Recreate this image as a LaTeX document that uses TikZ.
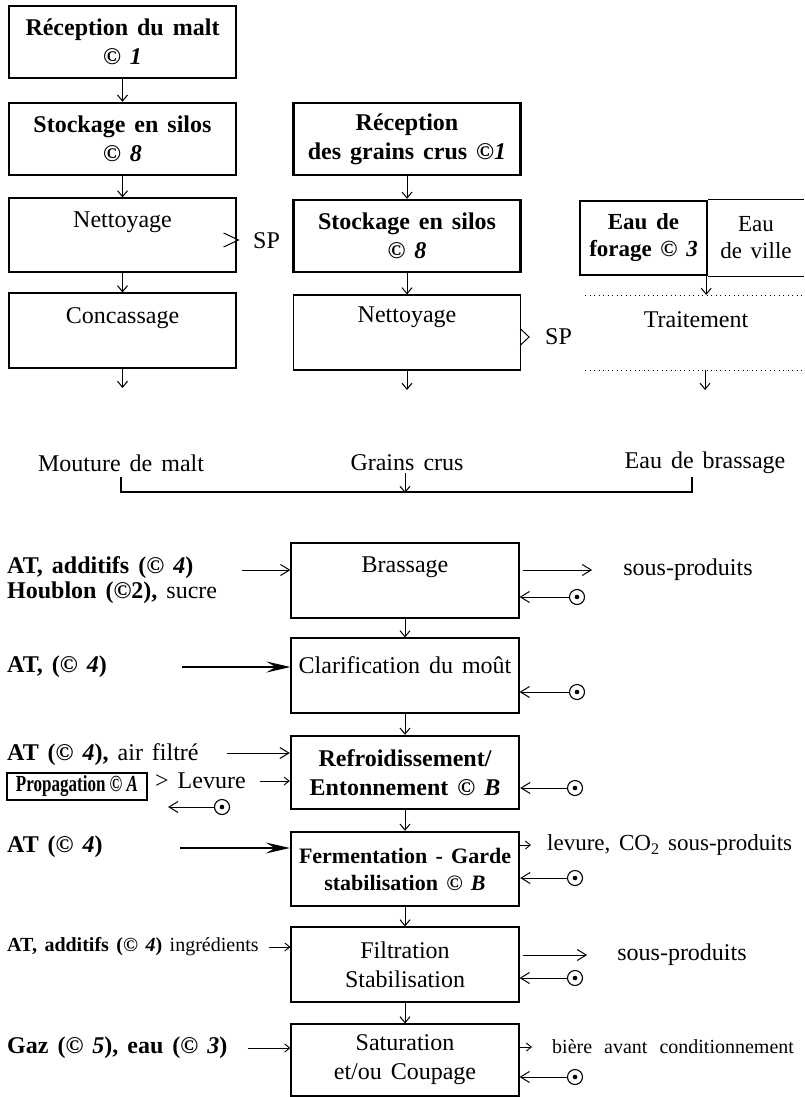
\documentclass[tikz,border=0pt]{standalone}
\usepackage{fontspec}
\setmainfont{Liberation Serif}[WordSpace=1.5]
\newfontfamily\propfont{Liberation Serif}[FakeStretch=0.74]
\usetikzlibrary{arrows.meta,calc}

\newcommand\ftA{\fontsize{24}{29}\selectfont}
\newcommand\ftB{\fontsize{23}{26}\selectfont}
\newcommand\ftC{\fontsize{20}{24}\selectfont}
\newcommand\cop{\textcopyright}

\begin{document}
\begin{tikzpicture}[x=1pt,y=-1pt,
  pbox/.style={draw, line width=1.1pt, minimum width=227pt, inner sep=0pt, align=center, font=\ftA},
  pboxb/.style={pbox, line width=2.4pt, font=\ftA\bfseries},
  lbl/.style={inner sep=0pt, align=center, font=\ftA},
  lblw/.style={lbl, anchor=west, align=left},
  vtip/.style={-{Straight Barb[length=6pt,width=10pt]}, line width=1pt},
  htip/.style={-{Straight Barb[length=9pt,width=11pt]}, line width=1pt},
  wtip/.style={-{Stealth[length=24pt,width=11pt,inset=9pt]}, line width=1.1pt},
  stip/.style={-{Straight Barb[length=5pt,width=8pt]}, line width=0.9pt},
  dotrule/.style={line width=0.9pt, dash pattern=on 0.9pt off 3.6pt},
  odot/.style={circle, draw, line width=1.1pt, minimum size=15pt, inner sep=0pt,
    path picture={\fill (path picture bounding box.center) circle (2.3pt);}},
]
\useasboundingbox (0,0) rectangle (804,1097);

% ---- malt line
\node[pboxb, minimum height=72pt] (recMalt) at (122.5,42) {Réception du malt\\\cop\ \textit{1}};
\node[pboxb, minimum height=72pt] (stockL) at (122.5,139) {Stockage en silos\\\cop\ \textit{8}};
\node[pbox, minimum height=74pt] (nettL) at (122.5,235) {};
\node[lbl] (nettLt) at (122.5,222) {Nettoyage};
\node[pbox, minimum height=75pt] (concL) at (122.5,330.5) {};
\node[lbl] (concLt) at (122.5,318) {Concassage};
\coordinate (maltEnd) at (122.5,388);
\node[lbl] (mouture) at (121,463) {Mouture de malt};
\draw[vtip] (recMalt) -- (stockL);
\draw[vtip] (stockL) -- (nettL);
\draw[vtip] (nettL) -- (concL);
\draw[vtip] (concL) -- (maltEnd);
\node[lblw] (spL) at (253,241) {SP};
\draw[line width=1pt] ($(nettL.east)+(-13,-2)$) -- ($(nettL.east)+(2,5)$) -- ($(nettL.east)+(-13,12)$);

% ---- raw grain line
\node[pboxb, minimum height=72pt] (recGr) at (407,139) {Réception\\des grains crus \cop\textit{1}};
\node[pboxb, minimum height=72pt] (stockM) at (407,236) {Stockage en silos\\\cop\ \textit{8}};
\node[pbox, minimum height=75pt] (nettM) at (407,332.5) {};
\node[lbl] (nettMt) at (407,317) {Nettoyage};
\coordinate (grEnd) at (407,390);
\node[lbl] (grains) at (407,463) {Grains crus};
\draw[vtip] (recGr) -- (stockM);
\draw[vtip] (stockM) -- (nettM);
\draw[vtip] (nettM) -- (grEnd);
\node[lblw] (spM) at (545,337) {SP};
\draw[line width=1pt] ($(nettM.east)+(-1,-4)$) -- ($(nettM.east)+(8,4.5)$) -- ($(nettM.east)+(-1,13)$);

% ---- water line
\coordinate (rightEdge) at (804,0);
\node[pboxb, minimum width=127pt, minimum height=74pt, font=\fontsize{23}{27}\selectfont\bfseries] (forage) at (643.5,238) {Eau de\\forage \cop\ \textit{3}};
\draw[line width=1.1pt] (forage.north east) -- (forage.north east -| rightEdge);
\draw[line width=1.1pt] (forage.south east) -- (forage.south east -| rightEdge);
\node[lbl, font=\fontsize{23}{27}\selectfont] (ville) at (756,238) {Eau\\de ville};
\coordinate (d1a) at (585,295);
\coordinate (d1b) at (804,295);
\coordinate (d2a) at (585,370);
\coordinate (d2b) at (804,370);
\draw[dotrule] (d1a) -- (d1b);
\draw[dotrule] (d2a) -- (d2b);
\node[lbl] (trait) at (696,320) {Traitement};
\draw[vtip] ([xshift=-2pt]forage.south east) -- ([xshift=-2pt]forage.south east |- d1a);
\coordinate (eauTop) at (705,370);
\coordinate (eauEnd) at (705,390);
\draw[vtip] (eauTop) -- (eauEnd);
\node[lbl] (eauBr) at (705,463) {Eau de brassage};

% ---- gathering bracket
\coordinate (brL) at (121,477);
\coordinate (brLb) at (121,492);
\coordinate (brRb) at (692,492);
\coordinate (brR) at (692,477);
\draw[line width=1.1pt] (brL) -- (brLb) -- (brRb) -- (brR);
\coordinate (mixTop) at (405,473);
\coordinate (mixEnd) at (405,493);
\draw[vtip] (mixTop) -- (mixEnd);

% ---- brewing steps
\node[pbox, minimum width=228pt, minimum height=75pt] (brass) at (405,580.5) {};
\node[lbl] (brasst) at (405,567) {Brassage};
\node[pbox, minimum width=228pt, minimum height=75pt] (clar) at (405,675.5) {};
\node[lbl] (clart) at (405,665) {Clarification du moût};
\node[pboxb, minimum width=228pt, minimum height=73pt] (refr) at (405,772.5) {Refroidissement/\\Entonnement \cop\ \textit{B}};
\node[pboxb, minimum width=228pt, minimum height=74pt, font=\fontsize{22}{27}\selectfont\bfseries] (ferm) at (405,869) {Fermentation - Garde\\stabilisation \cop\ \textit{B}};
\node[pbox, minimum width=228pt, minimum height=75pt] (filt) at (405,964.5) {Filtration\\Stabilisation};
\node[pbox, minimum width=228pt, minimum height=72pt] (sat) at (405,1060) {Saturation\\et/ou Coupage};
\draw[vtip] (brass) -- (clar);
\draw[vtip] (clar) -- (refr);
\draw[vtip] (refr) -- (ferm);
\draw[vtip] (ferm) -- (filt);
\draw[vtip] (filt) -- (sat);

% ---- outputs and controls on the right
\node[lbl] (sp1) at (688,570) {sous-produits};
\draw[htip, shorten <=3pt, shorten >=31pt] (brass.east |- sp1.west) -- (sp1.west);
\node[lbl] (sp2) at (682,955) {sous-produits};
\draw[htip, shorten <=3pt, shorten >=30pt] (filt.east |- sp2.west) -- (sp2.west);
\node[lblw, font=\ftB] (levOut) at (547,845) {levure, CO\textsubscript{2} sous-produits};
\draw[stip, shorten >=16pt] (ferm.east |- levOut.west) -- (levOut.west);
\node[lblw, font=\ftC] (biere) at (552,1047) {bière\hspace{12pt}avant\hspace{12pt}conditionnement};
\draw[stip, shorten >=20pt] (sat.east |- biere.west) -- (biere.west);

\node[odot] (o1) at (577,597) {};
\node[odot] (o2) at (577,692) {};
\node[odot] (o3) at (575,788) {};
\node[odot] (o4) at (575,878) {};
\node[odot] (o5) at (575,978) {};
\node[odot] (o6) at (575,1077) {};
\draw[htip] (o1) -- (o1 -| brass.east);
\draw[htip] (o2) -- (o2 -| clar.east);
\draw[htip] (o3) -- (o3 -| refr.east);
\draw[htip] (o4) -- (o4 -| ferm.east);
\draw[htip] (o5) -- (o5 -| filt.east);
\draw[htip] (o6) -- (o6 -| sat.east);

% ---- inputs on the left
\node[lblw, font=\ftA\bfseries] (in1) at (7,568) {AT, additifs (\cop\ \textit{4})};
\node[lblw] (in1b) at (7,593) {\textbf{Houblon (\cop2),} sucre};
\coordinate (a1) at (242,570);
\draw[htip] (a1) -- (a1 -| brass.west);
\node[lblw, font=\ftA\bfseries] (in2) at (7,667) {AT, (\cop\ \textit{4})};
\coordinate (a2) at (182,667);
\draw[wtip] (a2) -- (a2 -| clar.west);
\node[lblw] (in3) at (7,755) {\textbf{AT (\cop\ \textit{4}),} air filtré};
\coordinate (a3) at (227,753);
\draw[htip] (a3) -- (a3 -| refr.west);
\node[draw, line width=2.2pt, minimum width=140pt, minimum height=27pt, inner sep=0pt,
  font=\propfont\fontsize{23}{25}\selectfont\bfseries] (prop) at (77,786.5) {Propagation \cop\ \textit{A}};
\node[lblw] (levIn) at (155,781) {> Levure};
\draw[stip, shorten <=14pt] (levIn.east) -- (levIn.east -| refr.west);
\node[odot] (o0) at (222,807) {};
\draw[htip, shorten >=20pt] (o0) -- (o0 -| prop.east);
\node[lblw, font=\ftA\bfseries] (in4) at (7,847) {AT (\cop\ \textit{4})};
\coordinate (a4) at (180,848);
\draw[wtip] (a4) -- (a4 -| ferm.west);
\node[lblw, font=\ftC] (in5) at (7,947) {\textbf{AT, additifs (\cop\ \textit{4})} ingrédients};
\draw[stip, shorten <=10pt] (in5.east) -- (in5.east -| filt.west);
\node[lblw, font=\ftA\bfseries] (in6) at (7,1048) {Gaz (\cop\ \textit{5}), eau (\cop\ \textit{3})};
\draw[stip, shorten <=20pt] (in6.east) -- (in6.east -| sat.west);
\end{tikzpicture}
\end{document}
